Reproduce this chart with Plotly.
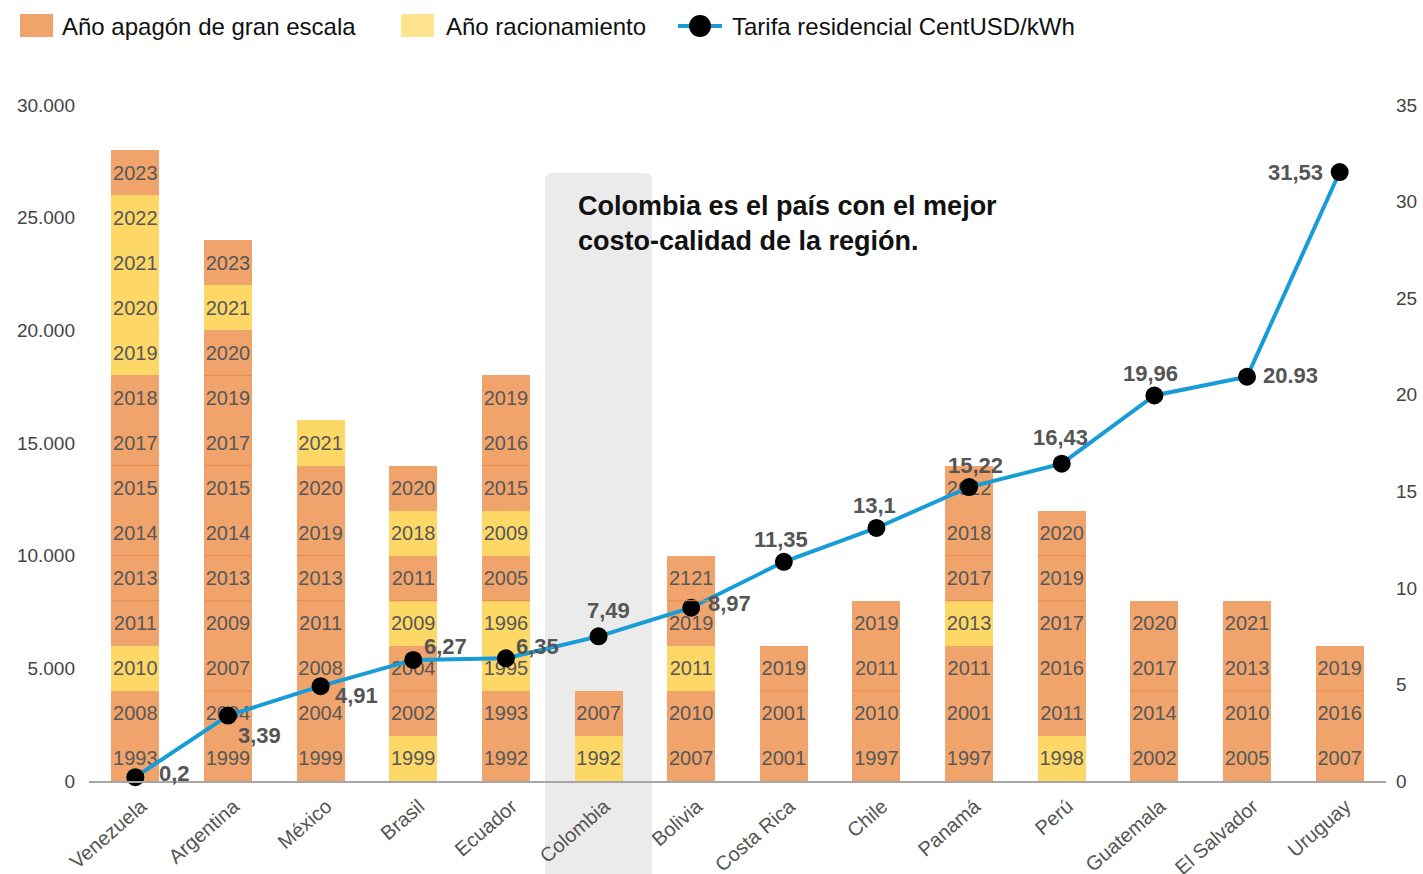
import plotly.graph_objects as go

# ---------------- data ----------------
countries = ["Venezuela", "Argentina", "México", "Brasil", "Ecuador", "Colombia", "Bolivia",
             "Costa Rica", "Chile", "Panamá", "Perú", "Guatemala", "El Salvador", "Uruguay"]

# years per country, bottom -> top
years = [
    ["1993", "2008", "2010", "2011", "2013", "2014", "2015", "2017", "2018", "2019", "2020", "2021", "2022", "2023"],
    ["1999", "2004", "2007", "2009", "2013", "2014", "2015", "2017", "2019", "2020", "2021", "2023"],
    ["1999", "2004", "2008", "2011", "2013", "2019", "2020", "2021"],
    ["1999", "2002", "2004", "2009", "2011", "2018", "2020"],
    ["1992", "1993", "1995", "1996", "2005", "2009", "2015", "2016", "2019"],
    ["1992", "2007"],
    ["2007", "2010", "2011", "2019", "2121"],
    ["2001", "2001", "2019"],
    ["1997", "2010", "2011", "2019"],
    ["1997", "2001", "2011", "2013", "2017", "2018", "2022"],
    ["1998", "2011", "2016", "2017", "2019", "2020"],
    ["2002", "2014", "2017", "2020"],
    ["2005", "2010", "2013", "2021"],
    ["2007", "2016", "2019"],
]
# A = apagón de gran escala, R = racionamiento
kinds = [
    ["A", "A", "R", "A", "A", "A", "A", "A", "A", "R", "R", "R", "R", "A"],
    ["A", "A", "A", "A", "A", "A", "A", "A", "A", "A", "R", "A"],
    ["A", "A", "A", "A", "A", "A", "A", "R"],
    ["R", "A", "A", "R", "A", "R", "A"],
    ["A", "A", "R", "R", "A", "R", "A", "A", "A"],
    ["R", "A"],
    ["A", "A", "R", "A", "A"],
    ["A", "A", "A"],
    ["A", "A", "A", "A"],
    ["A", "A", "A", "R", "A", "A", "A"],
    ["R", "A", "A", "A", "A", "A"],
    ["A", "A", "A", "A"],
    ["A", "A", "A", "A"],
    ["A", "A", "A"],
]
segment_value = 2000

# thin separators visible inside the bars (left-axis values)
dividers = [
    [8000, 10000, 14000],
    [4000, 8000, 10000, 14000, 18000],
    [8000, 10000],
    [4000, 8000],
    [8000, 14000],
    [],
    [8000],
    [4000],
    [4000],
    [8000, 10000],
    [8000, 10000],
    [4000],
    [4000],
    [4000],
]

tarifa = [0.2, 3.39, 4.91, 6.27, 6.35, 7.49, 8.97, 11.35, 13.1, 15.22, 16.43, 19.96, 20.93, 31.53]
tarifa_labels = ["0,2", "3,39", "4,91", "6,27", "6,35", "7,49", "8,97", "11,35", "13,1",
                 "15,22", "16,43", "19,96", "20.93", "31,53"]
# label offsets from each point, in pixels (right, up)
label_dx = [39, 32, 36, 32, 32, 10, 38, -3, -2, 6, -1, -4, 43, -44]
label_dy = [4, -20, -9, 13, 12, 26, 4, 22, 22, 22, 26, 22, 1, 0]

left_ticks = [0, 5000, 10000, 15000, 20000, 25000, 30000]
right_ticks = [0, 5, 10, 15, 20, 25, 30, 35]

legend_names = ["Año apagón de gran escala", "Año racionamiento", "Tarifa residencial CentUSD/kWh"]
note_text = "Colombia es el país con el mejor<br>costo-calidad de la región."
highlight = "Colombia"

# ---------------- style ----------------
ORANGE = "#F0A46C"
YELLOW = "#FDD866"
YELLOW_LEG = "#FEE48F"
BLUE = "#179CD8"
FONT = "Helvetica Neue, Helvetica, Arial, Liberation Sans, sans-serif"
color_of = {"A": ORANGE, "R": YELLOW}

W, H = 1423, 874
L, R, T, B = 89, 37, 105, 93
PW, PH = W - L - R, H - T - B
BAR_W = 0.518


def px_x(px):
    return (px - L) / PW


def px_y(py):
    return (H - B - py) / PH


fig = go.Figure()

max_len = max(len(y) for y in years)
for lvl in range(max_len):
    xs, ys, txt, cols = [], [], [], []
    for c, yr, kd in zip(countries, years, kinds):
        if len(yr) > lvl:
            xs.append(c)
            ys.append(segment_value)
            txt.append(yr[lvl])
            cols.append(color_of[kd[lvl]])
    fig.add_trace(go.Bar(
        x=xs, y=ys, text=txt, marker=dict(color=cols, line=dict(width=0)),
        textposition="inside", insidetextanchor="middle", constraintext="none",
        textfont=dict(size=20, color="#585858", family=FONT),
        showlegend=False, hoverinfo="skip", yaxis="y",
    ))

fig.add_trace(go.Scatter(
    x=countries, y=tarifa, yaxis="y2", mode="lines+markers",
    line=dict(color=BLUE, width=4),
    marker=dict(color="black", size=18),
    cliponaxis=False, showlegend=False,
))

shapes = []
# highlight column behind Colombia
hx0 = px_x(545)
hx1 = px_x(652)
hy0 = px_y(H + 20)
hy1 = px_y(173)
rx = 8 / PW
ry = 8 / PH
path = (f"M{hx0},{hy0} L{hx0},{hy1 - ry} Q{hx0},{hy1} {hx0 + rx},{hy1} "
        f"L{hx1 - rx},{hy1} Q{hx1},{hy1} {hx1},{hy1 - ry} L{hx1},{hy0} Z")
shapes.append(dict(type="path", path=path, xref="paper", yref="paper",
                   fillcolor="#EBEBEB", line=dict(width=0), layer="below"))

# bar dividers
for i, levels in enumerate(dividers):
    for v in levels:
        shapes.append(dict(type="line", xref="x", yref="y", x0=i - BAR_W / 2, x1=i + BAR_W / 2,
                           y0=v, y1=v, line=dict(color="#EC8A50", width=1), layer="above"))

# manual legend
shapes.append(dict(type="rect", xref="paper", yref="paper", x0=px_x(20), x1=px_x(53),
                   y0=px_y(37), y1=px_y(14), fillcolor=ORANGE, line=dict(width=0)))
shapes.append(dict(type="rect", xref="paper", yref="paper", x0=px_x(401), x1=px_x(434),
                   y0=px_y(37), y1=px_y(14), fillcolor=YELLOW_LEG, line=dict(width=0)))
shapes.append(dict(type="line", xref="paper", yref="paper", x0=px_x(678), x1=px_x(722),
                   y0=px_y(26), y1=px_y(26), line=dict(color=BLUE, width=4)))
shapes.append(dict(type="circle", xref="paper", yref="paper", x0=px_x(689), x1=px_x(711),
                   y0=px_y(37), y1=px_y(15), fillcolor="black", line=dict(width=0)))

annotations = [
    dict(text=legend_names[0], x=px_x(60), y=px_y(27), xref="paper", yref="paper",
         xanchor="left", yanchor="middle", showarrow=False, font=dict(size=24, color="#111", family=FONT)),
    dict(text=legend_names[1], x=px_x(444), y=px_y(27), xref="paper", yref="paper",
         xanchor="left", yanchor="middle", showarrow=False, font=dict(size=24, color="#111", family=FONT)),
    dict(text=legend_names[2], x=px_x(730), y=px_y(27), xref="paper", yref="paper",
         xanchor="left", yanchor="middle", showarrow=False, font=dict(size=24, color="#111", family=FONT)),
    dict(text=note_text, x=px_x(576), y=px_y(224), xref="paper", yref="paper",
         xanchor="left", yanchor="middle", align="left", showarrow=False,
         font=dict(size=27, color="#111", family=FONT, weight="bold")),
]

# value labels of the tariff line, anchored to the data points
for c, v, lab, dx, dy in zip(countries, tarifa, tarifa_labels, label_dx, label_dy):
    annotations.append(dict(
        text=lab, x=c, y=v, xref="x", yref="y2", showarrow=False,
        xanchor="center", yanchor="middle", xshift=dx, yshift=dy,
        font=dict(size=22, color="#555555", family=FONT, weight="bold"),
    ))

fig.update_layout(
    width=W, height=H,
    margin=dict(l=L, r=R, t=T, b=B, pad=0, autoexpand=False),
    paper_bgcolor="white", plot_bgcolor="rgba(0,0,0,0)",
    barmode="stack", bargap=1 - BAR_W,
    separators=",.",
    showlegend=False,
    font=dict(family=FONT),
    shapes=shapes, annotations=annotations,
    xaxis=dict(type="category", range=[-0.5, len(countries) - 0.5], showline=True,
               linecolor="#A6A6A6", linewidth=2, ticks="", tickangle=-41, automargin=False,
               ticklabelstandoff=4, ticklabelshift=6,
               tickfont=dict(size=20, color="#555555", family=FONT), showgrid=False, zeroline=False),
    yaxis=dict(range=[0, 30000], tickvals=left_ticks, tickformat=",d", showgrid=False,
               zeroline=False, showline=False, ticks="", ticklabelstandoff=13, automargin=False,
               tickfont=dict(size=19, color="#444444", family=FONT)),
    yaxis2=dict(range=[0, 35], tickvals=right_ticks, overlaying="y", side="right",
                showgrid=False, zeroline=False, showline=False, ticks="", ticklabelstandoff=9,
                automargin=False, tickfont=dict(size=19, color="#444444", family=FONT)),
)

# the page itself has no margin, so the figure fills the window exactly
fig.write_html("out.html", config={"displayModeBar": False},
               post_script="document.body.style.margin='0';document.body.style.overflow='hidden';")
